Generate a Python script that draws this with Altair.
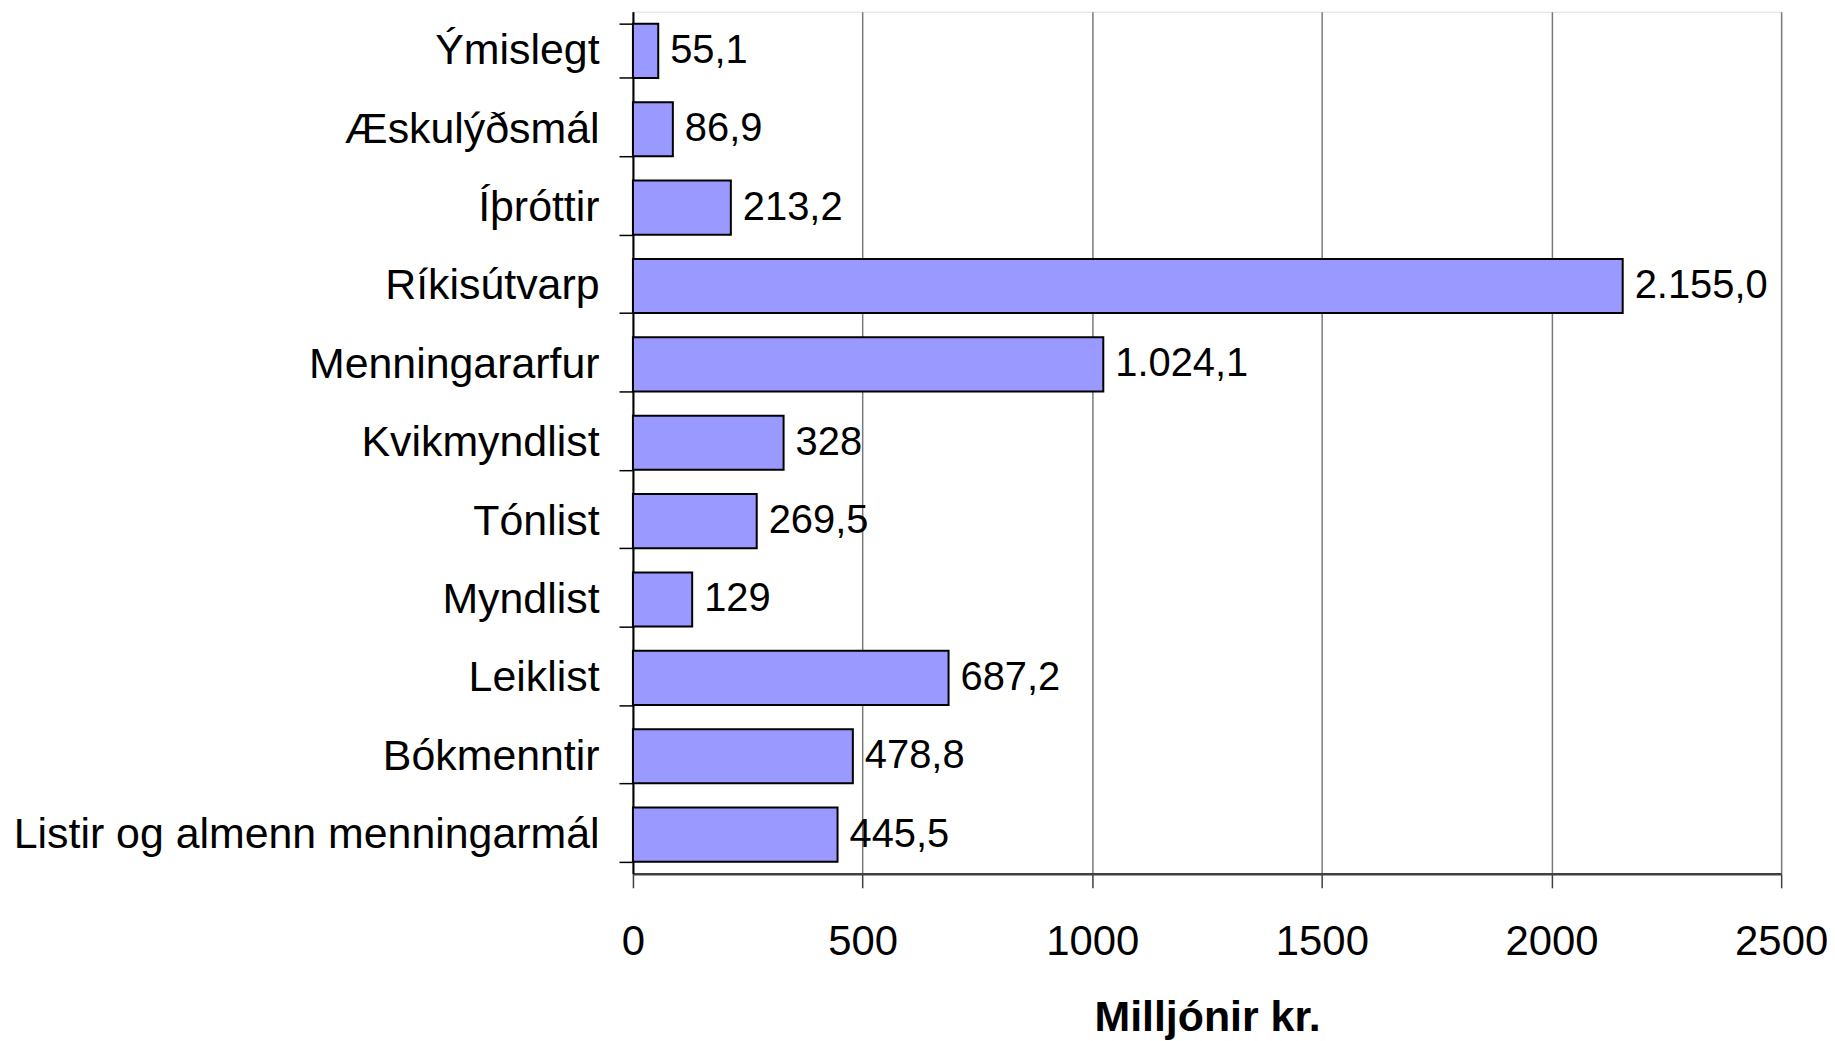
import altair as alt
import pandas as pd

categories = ["Ýmislegt", "Æskulýðsmál", "Íþróttir", "Ríkisútvarp", "Menningararfur",
              "Kvikmyndlist", "Tónlist", "Myndlist", "Leiklist", "Bókmenntir",
              "Listir og almenn menningarmál"]
values = [55.1, 86.9, 213.2, 2155.0, 1024.1, 328, 269.5, 129, 687.2, 478.8, 445.5]
value_labels = ["55,1", "86,9", "213,2", "2.155,0", "1.024,1", "328", "269,5", "129",
                "687,2", "478,8", "445,5"]
x_ticks = [0, 500, 1000, 1500, 2000, 2500]

df = pd.DataFrame({"cat": categories, "val": values, "lab": value_labels})

FONT = "Liberation Sans"

y_enc = alt.Y("cat:N", sort=categories, title=None,
              scale=alt.Scale(paddingInner=0.31, paddingOuter=0.155),
              axis=alt.Axis(labelFont=FONT, labelFontSize=43, labelColor="black",
                            labelPadding=20, tickSize=14, tickBand="extent",
                            tickColor="#000000", tickWidth=1.5,
                            domainColor="#000000", domainWidth=2, grid=False,
                            labelLimit=800))
x_scale = alt.Scale(domain=[0, 2500], nice=False)

bars = alt.Chart(df).mark_bar(fill="#9999FF", stroke="#000000", strokeWidth=2).encode(
    y=y_enc,
    x=alt.X("val:Q", scale=x_scale, title="Milljónir kr.",
            axis=alt.Axis(values=x_ticks, format="d", labelFont=FONT, labelFontSize=42,
                          labelColor="black", labelPadding=34, tickSize=14,
                          labelFlush=False, labelOverlap=False,
                          tickColor="#404040", tickWidth=1.5,
                          domainColor="#404040", domainWidth=2.5,
                          grid=True, gridColor="#7a7a7a", gridWidth=1.5,
                          titleFont=FONT, titleFontSize=43, titleFontWeight="bold",
                          titleColor="black", titlePadding=34)),
)

text = alt.Chart(df).mark_text(align="left", baseline="middle", dx=12, font=FONT,
                               fontSize=40, color="black").encode(
    y=alt.Y("cat:N", sort=categories),
    x=alt.X("val:Q", scale=x_scale),
    text="lab:N",
)

chart = (bars + text).properties(
    width=1152, height=865,
    autosize=alt.AutoSizeParams(type="none"),
    padding={"left": 627, "top": 2, "right": 46, "bottom": 166},
).configure_view(stroke="#7a7a7a", strokeWidth=2).configure(background="white")

chart.save("out.html", embed_options={"renderer": "svg", "actions": False})
